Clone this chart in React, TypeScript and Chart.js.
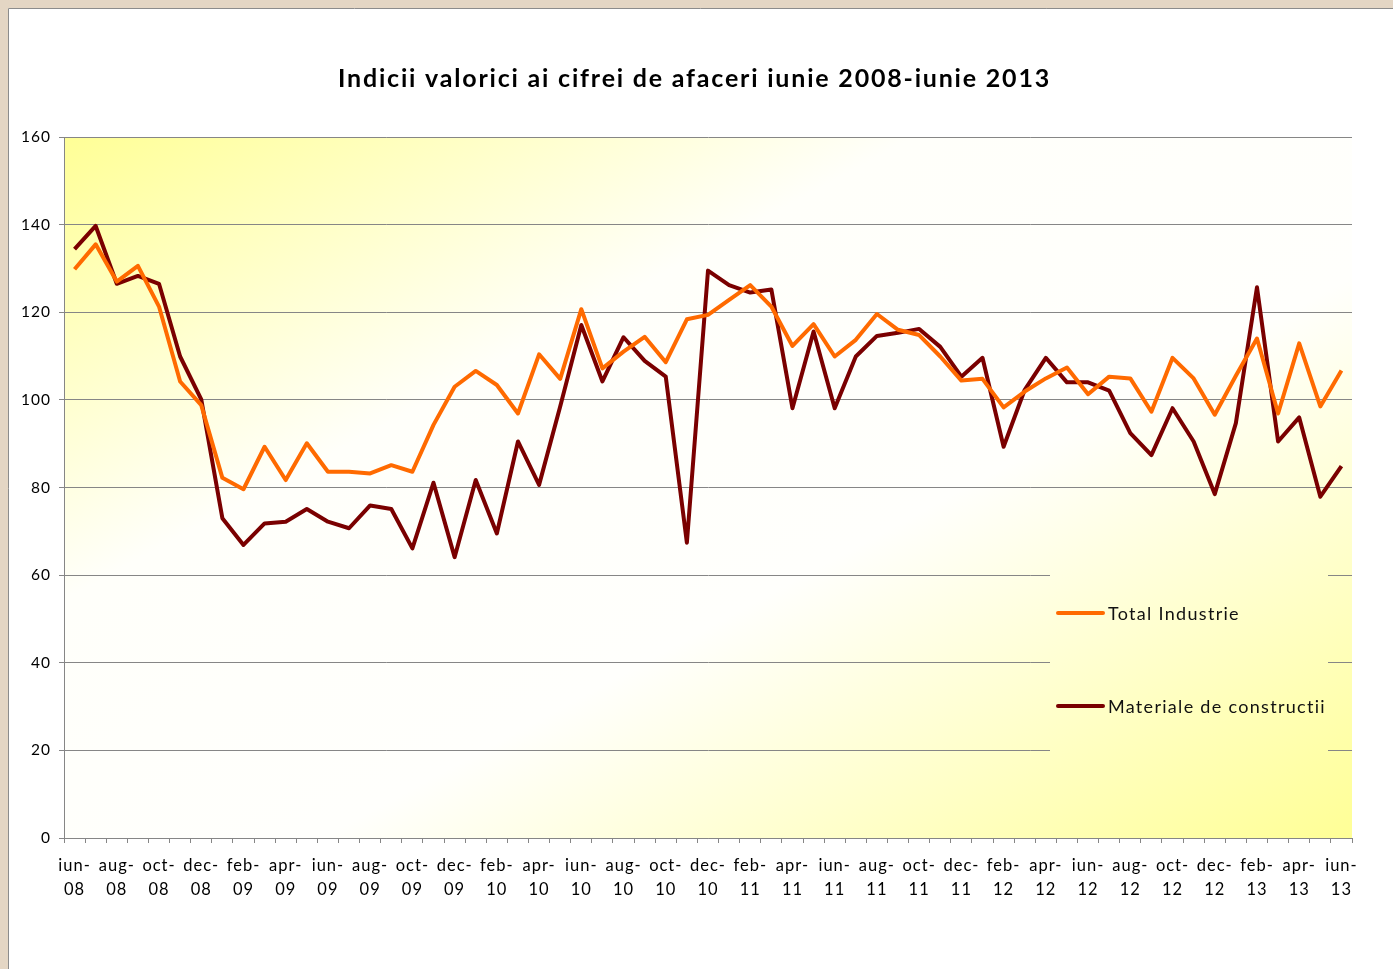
import React, { useEffect, useRef } from "react";
import { Chart, registerables } from "chart.js";

Chart.register(...registerables);

const categories: string[] = [
  "iun-08", "iul-08", "aug-08", "sep-08", "oct-08", "nov-08", "dec-08", "ian-09", "feb-09", "mar-09", "apr-09", "mai-09",
  "iun-09", "iul-09", "aug-09", "sep-09", "oct-09", "nov-09", "dec-09", "ian-10", "feb-10", "mar-10", "apr-10", "mai-10",
  "iun-10", "iul-10", "aug-10", "sep-10", "oct-10", "nov-10", "dec-10", "ian-11", "feb-11", "mar-11", "apr-11", "mai-11",
  "iun-11", "iul-11", "aug-11", "sep-11", "oct-11", "nov-11", "dec-11", "ian-12", "feb-12", "mar-12", "apr-12", "mai-12",
  "iun-12", "iul-12", "aug-12", "sep-12", "oct-12", "nov-12", "dec-12", "ian-13", "feb-13", "mar-13", "apr-13", "mai-13",
  "iun-13",
];

const totalIndustrie: number[] = [
  129.8, 135.5, 127.0, 130.6, 121.3, 104.2, 98.8, 82.2, 79.6, 89.3, 81.7, 90.1,
  83.6, 83.6, 83.2, 85.1, 83.6, 94.3, 103.0, 106.6, 103.4, 96.9, 110.4, 104.8,
  120.7, 107.2, 111.0, 114.4, 108.6, 118.4, 119.4, 122.8, 126.2, 121.3, 112.3, 117.3,
  109.9, 113.7, 119.6, 116.0, 114.8, 109.9, 104.4, 104.8, 98.3, 101.9, 104.9, 107.4,
  101.3, 105.3, 104.9, 97.3, 109.6, 104.9, 96.6, 105.5, 114.0, 96.9, 112.9, 98.5,
  106.7,
];

const materialeConstructii: number[] = [
  134.4, 139.7, 126.5, 128.3, 126.5, 109.9, 100.1, 73.0, 66.9, 71.8, 72.2, 75.1,
  72.2, 70.7, 75.9, 75.1, 66.1, 81.1, 64.1, 81.7, 69.5, 90.5, 80.6, 98.5,
  117.1, 104.2, 114.3, 108.9, 105.3, 67.4, 129.5, 126.2, 124.5, 125.2, 98.1, 115.6,
  98.1, 109.9, 114.6, 115.3, 116.2, 112.1, 105.3, 109.6, 89.3, 102.3, 109.6, 104.0,
  104.0, 102.1, 92.4, 87.4, 98.1, 90.5, 78.5, 94.7, 125.7, 90.5, 96.0, 77.9,
  84.9,
];

const seriesNames: string[] = ["Total Industrie", "Materiale de constructii"];
const seriesColors: string[] = ["#ff6a00", "#7a0000"];
const yTicks: number[] = [0, 20, 40, 60, 80, 100, 120, 140, 160];
const titleText = "Indicii valorici ai cifrei de afaceri iunie 2008-iunie 2013";

const FONT = "Lato, 'Open Sans', sans-serif";

function makeGradient(ctx: CanvasRenderingContext2D, a: { left: number; top: number; right: number; bottom: number }) {
  const W = a.right - a.left;
  const H = a.bottom - a.top;
  const k = (2 * W * H) / (W * W + H * H);
  const g = ctx.createLinearGradient(a.left, a.top, a.left + H * k, a.top + W * k);
  g.addColorStop(0, "rgb(255,255,150)");
  g.addColorStop(0.33, "rgb(255,255,250)");
  g.addColorStop(0.6, "rgb(255,255,252)");
  g.addColorStop(1, "rgb(255,255,150)");
  return g;
}

const bgPlugin = {
  id: "bgPlugin",
  beforeDraw(chart: any) {
    const { ctx, width, height, chartArea } = chart;
    ctx.save();
    ctx.fillStyle = "#e4d6c4";
    ctx.fillRect(0, 0, width, height);
    ctx.fillStyle = "#ffffff";
    ctx.fillRect(8, 8, width, height);
    ctx.strokeStyle = "#8c8c8c";
    ctx.lineWidth = 1;
    ctx.beginPath();
    ctx.moveTo(8.5, height);
    ctx.lineTo(8.5, 8.5);
    ctx.lineTo(width, 8.5);
    ctx.stroke();
    ctx.fillStyle = makeGradient(ctx, chartArea);
    ctx.fillRect(chartArea.left, chartArea.top, chartArea.right - chartArea.left, chartArea.bottom - chartArea.top);
    ctx.restore();
    (ctx as any).letterSpacing = "1px";
  },
  beforeDatasetsDraw(chart: any) {
    const { ctx, chartArea } = chart;
    (ctx as any).letterSpacing = "0px";
    ctx.save();
    ctx.fillStyle = makeGradient(ctx, chartArea);
    ctx.fillRect(1050, 568, 278, 190);
    ctx.restore();
  },
  afterDraw(chart: any) {
    const { ctx } = chart;
    ctx.save();
    ctx.fillStyle = "#000";
    ctx.font = `bold 25px ${FONT}`;
    ctx.textAlign = "left";
    ctx.textBaseline = "middle";
    (ctx as any).letterSpacing = "1.8px";
    ctx.fillText(titleText, 338, 79);
    // legend
    const rows = [613, 706];
    seriesNames.forEach((name, i) => {
      const y = rows[i];
      ctx.strokeStyle = seriesColors[i];
      ctx.lineWidth = 4;
      ctx.lineCap = "round";
      ctx.beginPath();
      ctx.moveTo(1058, y);
      ctx.lineTo(1103, y);
      ctx.stroke();
      ctx.fillStyle = "#111";
      ctx.font = `18px ${FONT}`;
      ctx.textAlign = "left";
      ctx.textBaseline = "middle";
      (ctx as any).letterSpacing = "1.3px";
      ctx.fillText(name, 1108, y + 1);
    });
    (ctx as any).letterSpacing = "0px";
    ctx.restore();
  },
};

export default function App() {
  const ref = useRef<HTMLCanvasElement | null>(null);
  useEffect(() => {
    if (!ref.current) return;
    const chart = new Chart(ref.current, {
      type: "line",
      data: {
        labels: categories,
        datasets: [
          {
            label: seriesNames[0],
            data: totalIndustrie,
            borderColor: seriesColors[0],
            backgroundColor: seriesColors[0],
            borderWidth: 4,
            borderJoinStyle: "round",
            pointRadius: 0,
            tension: 0,
          },
          {
            label: seriesNames[1],
            data: materialeConstructii,
            borderColor: seriesColors[1],
            backgroundColor: seriesColors[1],
            borderWidth: 4,
            borderJoinStyle: "round",
            pointRadius: 0,
            tension: 0,
          },
        ],
      },
      options: {
        responsive: false,
        animation: false,
        layout: { padding: { left: 8, right: 41, top: 137, bottom: 51 } },
        plugins: { legend: { display: false }, tooltip: { enabled: false }, title: { display: false } },
        scales: {
          x: {
            type: "category",
            offset: true,
            grid: { display: true, drawOnChartArea: false, drawTicks: true, tickLength: 5, offset: true, color: "#868686" },
            border: { display: true, color: "#868686" },
            ticks: {
              autoSkip: false,
              maxRotation: 0,
              minRotation: 0,
              padding: 11,
              color: "#000",
              font: { family: FONT, size: 16.5, lineHeight: 24 / 16.5 },
              callback: (_v: any, i: number) => {
                if (i % 2 !== 0) return "";
                const [m, y] = categories[i].split("-");
                return [m + "-", y];
              },
            },
            afterFit: (s: any) => {
              s.height = 80;
            },
          },
          y: {
            min: 0,
            max: 160,
            afterBuildTicks: (s: any) => {
              s.ticks = yTicks.map((v) => ({ value: v }));
            },
            grid: { color: "#868686", lineWidth: 1, drawTicks: true, tickLength: 5 },
            border: { display: true, color: "#868686" },
            ticks: { padding: 8, color: "#000", font: { family: FONT, size: 15.5 } },
            afterFit: (s: any) => {
              s.width = 56;
            },
          },
        },
      },
      plugins: [bgPlugin],
    } as any);
    return () => chart.destroy();
  }, []);
  return (
    <div style={{ position: "fixed", left: 0, top: 0, width: 1393, height: 969 }}>
      <canvas ref={ref} width={1393} height={969} style={{ display: "block" }} />
    </div>
  );
}
